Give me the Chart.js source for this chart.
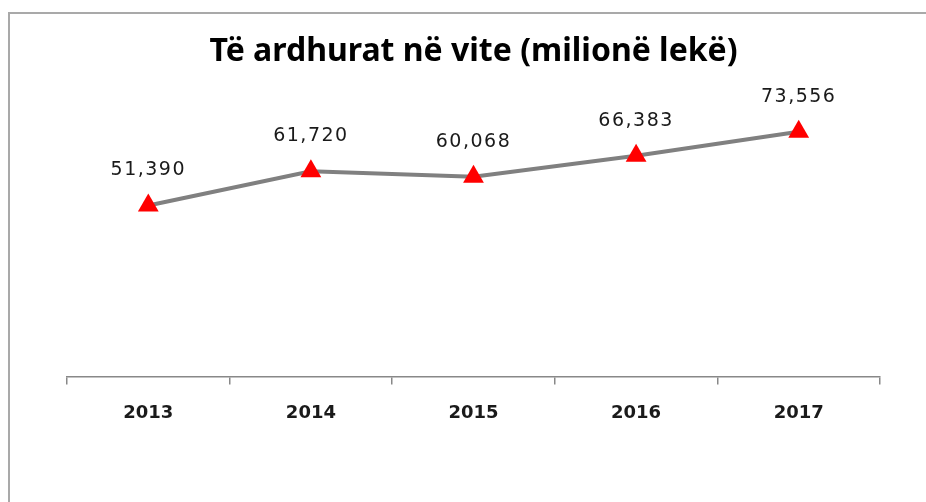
<!DOCTYPE html>
<html>
<head>
<meta charset="utf-8">
<script src="https://cdn.jsdelivr.net/npm/chart.js"></script>
<style>
  html, body { margin: 0; padding: 0; background: #fff; overflow: hidden; }
</style>
</head>
<body>
<canvas id="revenueChart" width="926" height="502"></canvas>
<script>
const years = ['2013', '2014', '2015', '2016', '2017'];
const revenue = [51390, 61720, 60068, 66383, 73556];
const chartTitle = 'Të ardhurat në vite (milionë lekë)';

// grey frame on the top and left edge, the rest is cut off in the original
const chartFrame = {
  id: 'chartFrame',
  beforeDraw(chart) {
    const ctx = chart.ctx;
    ctx.save();
    ctx.strokeStyle = '#a9a9a9';
    ctx.lineWidth = 2;
    ctx.beginPath();
    ctx.moveTo(9, chart.height);
    ctx.lineTo(9, 13);
    ctx.lineTo(chart.width, 13);
    ctx.stroke();
    ctx.restore();
  }
};

// value labels above each marker
const valueLabels = {
  id: 'valueLabels',
  afterDatasetsDraw(chart) {
    const ctx = chart.ctx;
    const meta = chart.getDatasetMeta(0);
    ctx.save();
    ctx.font = '19px "DejaVu Sans"';
    ctx.letterSpacing = '1.5px';
    ctx.fillStyle = '#1a1a1a';
    ctx.textAlign = 'center';
    ctx.textBaseline = 'middle';
    meta.data.forEach((pt, i) => {
      ctx.fillText(revenue[i].toLocaleString('en-US'), pt.x, pt.y - 35);
    });
    ctx.restore();
  }
};

new Chart(document.getElementById('revenueChart'), {
  type: 'line',
  data: {
    labels: years,
    datasets: [{
      data: revenue,
      borderColor: '#808080',
      borderWidth: 4,
      tension: 0,
      pointStyle: 'triangle',
      pointRadius: 12,
      pointBackgroundColor: '#ff0000',
      pointBorderColor: '#ff0000',
      pointBorderWidth: 0
    }]
  },
  options: {
    responsive: false,
    animation: false,
    layout: { padding: { left: 67, right: 46, top: 0, bottom: 60 } },
    plugins: {
      legend: { display: false },
      tooltip: { enabled: false },
      title: {
        display: true,
        text: chartTitle,
        color: '#000',
        font: { family: 'Noto Sans', size: 32, weight: 'bold' },
        padding: { top: 33, bottom: 39 }
      }
    },
    scales: {
      x: {
        offset: true,
        grid: {
          offset: true,
          drawOnChartArea: false,
          tickLength: 8,
          color: '#888',
          lineWidth: 1.5
        },
        border: { display: true, color: '#888', width: 1.5 },
        ticks: {
          color: '#1a1a1a',
          padding: 18,
          font: { family: 'DejaVu Sans', size: 18, weight: 'bold' }
        }
      },
      y: {
        display: false,
        min: 0,
        max: 80000
      }
    }
  },
  plugins: [chartFrame, valueLabels]
});
</script>
</body>
</html>
